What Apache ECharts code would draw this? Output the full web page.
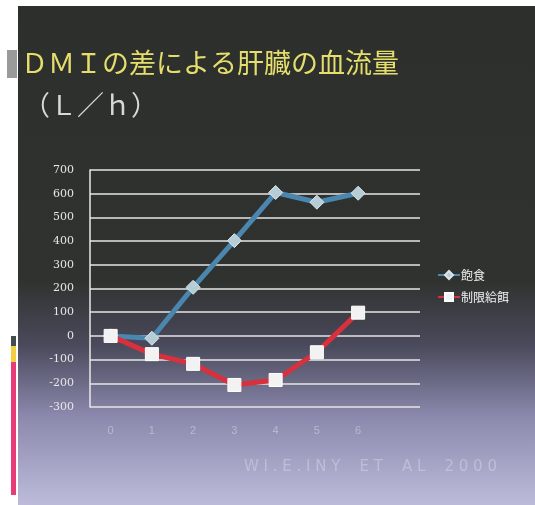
<!DOCTYPE html>
<html>
<head>
<meta charset="utf-8">
<script src="https://cdn.jsdelivr.net/npm/echarts@6/dist/echarts.min.js"></script>
<style>
  html, body { margin: 0; padding: 0; background: #ffffff; }
  #chart { width: 535px; height: 505px; }
</style>
</head>
<body>
<div id="chart"></div>
<script>
// Liver blood flow by DMI difference (L/h)
const categories = ['0', '1', '2', '3', '4', '5', '6', ''];
const adLibitum = [0, -10, 205, 402, 605, 564, 602, null];      // 飽食
const restricted = [0, -77, -118, -207, -186, -69, 98, null];  // 制限給餌
const yTicks = { min: -300, max: 700, step: 100 };

const chart = echarts.init(document.getElementById('chart'), null, { renderer: 'canvas' });

const cjk = '"Noto Sans CJK JP", "Noto Sans", sans-serif';

chart.setOption({
  animation: false,
  backgroundColor: '#ffffff',
  graphic: [
    {
      type: 'rect', z: -10, silent: true,
      shape: { x: 18, y: 6, width: 517, height: 499 },
      style: {
        fill: {
          type: 'linear', x: 0, y: 0, x2: 0, y2: 1,
          colorStops: [
            { offset: 0, color: '#2c2f2b' },
            { offset: 0.55, color: '#30322f' },
            { offset: 0.68, color: '#4a4a5c' },
            { offset: 0.82, color: '#8a88ac' },
            { offset: 1, color: '#bcbcda' }
          ]
        }
      }
    },
    { type: 'rect', z: -5, silent: true, shape: { x: 7, y: 50, width: 10, height: 28 }, style: { fill: '#9a9a9a' } },
    { type: 'rect', z: -5, silent: true, shape: { x: 11, y: 336, width: 5, height: 10 }, style: { fill: '#444c50' } },
    { type: 'rect', z: -5, silent: true, shape: { x: 11, y: 346, width: 5, height: 16 }, style: { fill: '#f0d040' } },
    { type: 'rect', z: -5, silent: true, shape: { x: 11, y: 362, width: 5, height: 133 }, style: { fill: '#e83c78' } },
    {
      type: 'text', z: 5, silent: true, left: 244, top: 460,
      style: { text: 'W I . E . I N Y    E T    A L    2 0 0 0', fill: 'rgba(255,255,255,0.28)', font: '15px "DejaVu Sans", sans-serif' }
    }
  ],
  title: [
    {
      text: 'ＤＭＩの差による肝臓の血流量',
      left: 16, top: 44,
      textStyle: { color: '#e6de6c', fontSize: 27, fontWeight: 'normal', fontFamily: cjk }
    },
    {
      text: '（Ｌ／ｈ）',
      left: 18, top: 86,
      textStyle: { color: '#d8d8d8', fontSize: 27, fontWeight: 'normal', fontFamily: cjk }
    }
  ],
  legend: {
    orient: 'vertical',
    left: 432, top: 264,
    itemGap: 10,
    itemWidth: 22, itemHeight: 10,
    textStyle: { color: '#f0f0f0', fontSize: 12, fontFamily: cjk, padding: [0, 0, 0, -4] },
    data: ['飽食', '制限給餌']
  },
  grid: { left: 90, right: 115, top: 170, bottom: 98, containLabel: false },
  xAxis: {
    type: 'category',
    data: categories,
    boundaryGap: true,
    axisLine: { show: false },
    axisTick: { show: false },
    axisLabel: { color: 'rgba(255,255,255,0.35)', fontSize: 11, margin: 18 },
    splitLine: { show: false }
  },
  yAxis: {
    type: 'value',
    min: yTicks.min, max: yTicks.max, interval: yTicks.step,
    axisLine: { show: true, lineStyle: { color: '#e8e8e8', width: 1.5 } },
    axisTick: { show: false },
    axisLabel: { color: '#e6e6e6', fontSize: 11, margin: 16, fontFamily: '"DejaVu Serif", serif' },
    splitLine: { show: true, lineStyle: { color: '#e6e6e6', width: 1.5 } }
  },
  series: [
    {
      name: '飽食',
      type: 'line',
      data: adLibitum,
      symbol: 'diamond',
      symbolSize: 14,
      lineStyle: { color: '#4a86ae', width: 5 },
      itemStyle: { color: '#b7cdd6', borderColor: '#d8e6ea', borderWidth: 1 },
      z: 3
    },
    {
      name: '制限給餌',
      type: 'line',
      data: restricted,
      symbol: 'rect',
      symbolSize: 13,
      lineStyle: { color: '#d8303c', width: 5 },
      itemStyle: { color: '#f2f2f2', borderColor: '#ffffff', borderWidth: 1 },
      z: 4
    }
  ]
});
</script>
</body>
</html>
